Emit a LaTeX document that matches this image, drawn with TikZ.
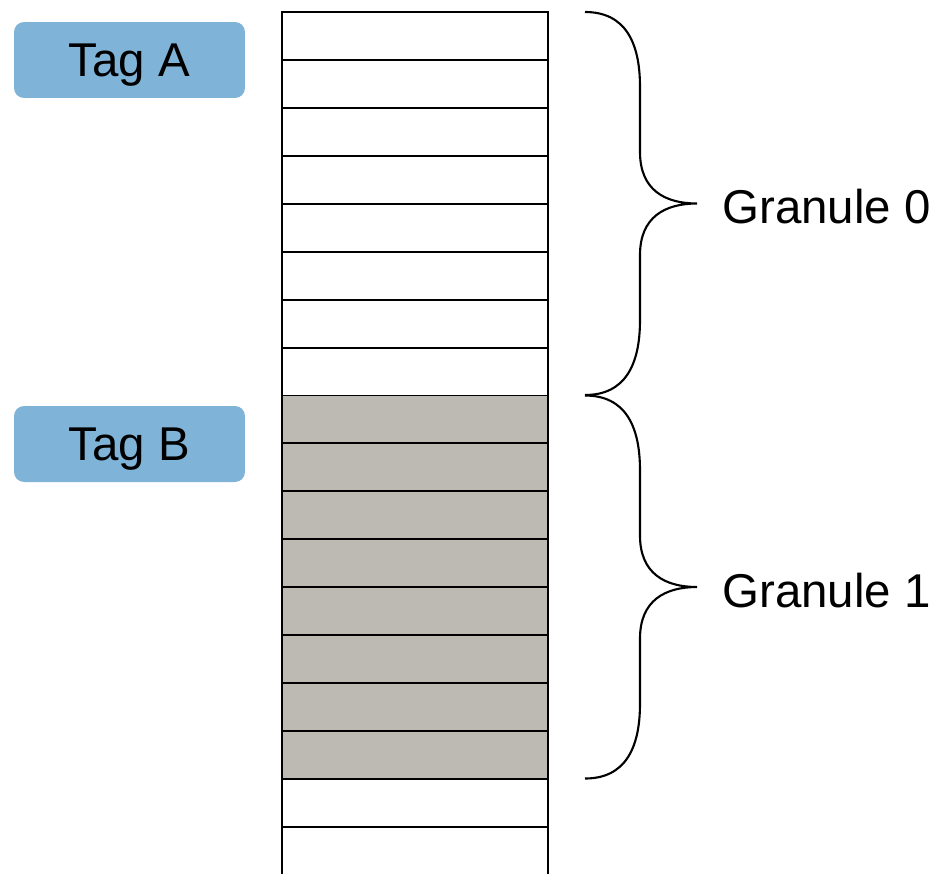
\documentclass[tikz,border=0pt]{standalone}
\usepackage{fontspec}
\setmainfont{Liberation Sans}
\definecolor{tagblue}{HTML}{7FB3D8}
\definecolor{granulegray}{HTML}{BDBAB4}
\begin{document}
\begin{tikzpicture}[x=0.02cm, y=-0.02cm,
    tag/.style ={fill=tagblue, rounded corners=0.2cm, minimum width=4.62cm, minimum height=1.52cm, text depth=0pt, font=\fontsize{27}{32}\selectfont},
    cell/.style ={draw, line width=1.1pt, rectangle, inner sep=0, outer sep=0, minimum width=5.32cm, minimum height=0.9588cm, anchor=north west},
    label/.style ={anchor=west, inner sep=0, font=\fontsize{27}{32}\selectfont}]
    \useasboundingbox (0,0) rectangle (937,873);
    \clip (0,0) rectangle (937,873);
    % memory rows, rows 8..15 belong to the tagged granule
    \foreach \i in {0,...,17} {
        \ifnum\i>7 \ifnum\i<16
            \node[cell, fill=granulegray] (r\i) at (282, 12+\i*47.94) {};
        \else
            \node[cell, fill=white] (r\i) at (282, 12+\i*47.94) {};
        \fi \else
            \node[cell, fill=white] (r\i) at (282, 12+\i*47.94) {};
        \fi
    }
    \node[tag] (tagA) at (129.5, 60) {Tag A};
    \node[tag] (tagB) at (129.5, 444) {Tag B};
    % braces
    \foreach \y/\n in {12/0, 395.5/1} {
        \draw[line width=1.2pt] (585, \y)
            .. controls (625, \y) and (640, \y+30) .. (640, \y+75)
            -- (640, \y+140)
            .. controls (640, \y+178) and (665, \y+191.5) .. (697, \y+191.5)
            .. controls (665, \y+191.5) and (640, \y+205) .. (640, \y+243)
            -- (640, \y+308)
            .. controls (640, \y+353) and (625, \y+383) .. (585, \y+383);
        \node[label] (g\n) at (722, \y+195) {Granule \n};
    }
\end{tikzpicture}
\end{document}
